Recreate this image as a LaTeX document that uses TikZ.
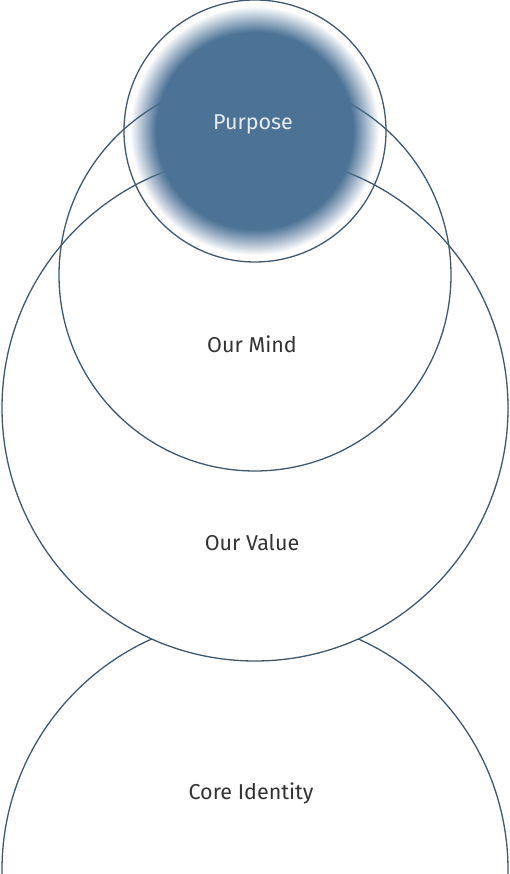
\documentclass[tikz,border=0pt]{standalone}
\usepackage{fontspec}
\setmainfont{Fira Sans}
\definecolor{ringline}{HTML}{41586C}
\definecolor{purposeblue}{HTML}{4C7396}
\definecolor{labelgray}{HTML}{333333}
\definecolor{purposetext}{HTML}{E6ECF2}
\tikzset{
  ring/.style={draw=ringline,line width=1.3pt},
  caption/.style={text=labelgray,font=\fontsize{21.5}{24}\selectfont}
}
\begin{document}
\begin{tikzpicture}[x=1pt,y=1pt]
\useasboundingbox (0,0) rectangle (510,874);
\coordinate (core) at (255,4);
\coordinate (value) at (255,466);
\coordinate (mind) at (255,599);
\coordinate (purpose) at (255,743);
% objects at depth 40:
\path[ring,fill=white] (core) circle (253);
% objects at depth 30:
\path[ring,fill=white] (value) circle (253);
% objects at depth 20:
\path[ring] (mind) circle (196);
% objects at depth 10: soft edged disk, opaque at r=99
\foreach \r [count=\k, evaluate=\k as \a using 1/(27-\k)] in {124,123,...,99}
  \path[fill=purposeblue,fill opacity=\a] (purpose) circle (\r);
\path[ring] (purpose) circle (131);
% labels
\node[caption,text=purposetext] (purposelabel) at (253,750) {Purpose};
\node[caption] (mindlabel) at (252,530) {Our Mind};
\node[caption] (valuelabel) at (252,331) {Our Value};
\node[caption] (corelabel) at (251,81) {Core Identity};
\end{tikzpicture}
\end{document}
